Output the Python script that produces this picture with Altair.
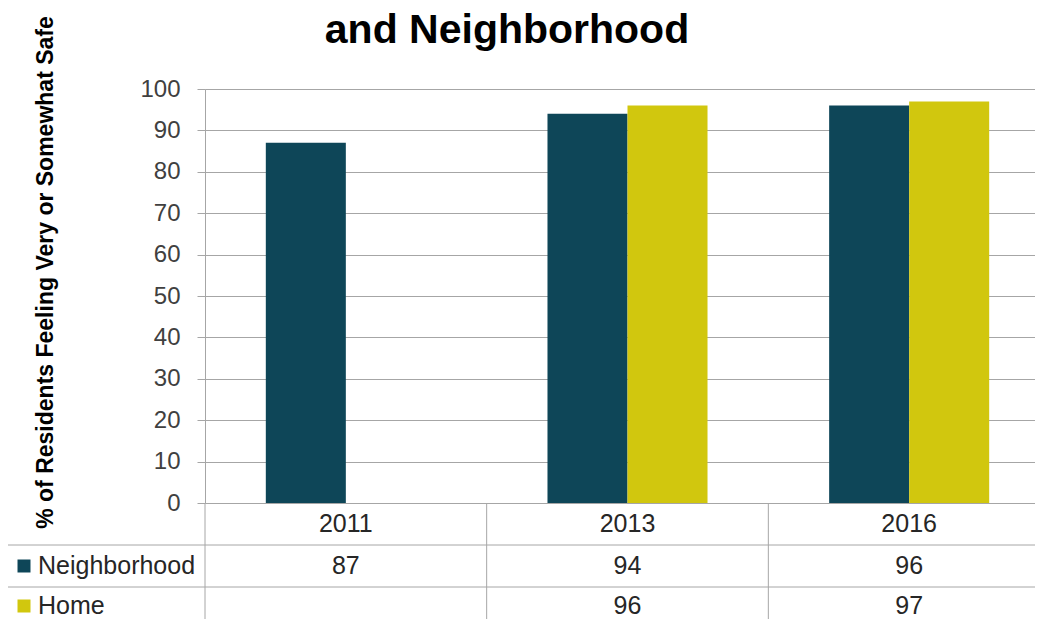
import altair as alt
import pandas as pd

years = ["2011", "2013", "2016"]
series = ["Neighborhood", "Home"]
neighborhood = [87, 94, 96]
home = [None, 96, 97]
y_ticks = list(range(0, 101, 10))
title_text = "and Neighborhood"
y_title = "% of Residents Feeling Very or Somewhat Safe"

TEAL = "#0E4658"
YELLOW = "#D1C70E"
GRID = "#A6A6A6"
FONT = "Liberation Sans"
TXT = "#262626"

rows = []
for i, yr in enumerate(years):
    rows.append({"year": yr, "series": "Neighborhood", "value": neighborhood[i]})
    if home[i] is not None:
        rows.append({"year": yr, "series": "Home", "value": home[i]})
df = pd.DataFrame(rows)
df_years = pd.DataFrame({"year": years})
df_series = pd.DataFrame({"series": series})
one = pd.DataFrame({"t": [title_text]})

W, H = 845, 414
ROW1, ROW2, ROW3 = 456, 498, 540
Y_HOME = (ROW2 + ROW3) / 2 - 2

x_scale = alt.Scale(domain=years, paddingInner=0, paddingOuter=0)
color_scale = alt.Scale(domain=series, range=[TEAL, YELLOW])

bars = alt.Chart(df).mark_bar().encode(
    x=alt.X("year:N", scale=x_scale, axis=None),
    xOffset=alt.XOffset("series:N", scale=alt.Scale(domain=series, paddingInner=0, paddingOuter=0.76)),
    y=alt.Y(
        "value:Q",
        scale=alt.Scale(domain=[0, 100]),
        axis=alt.Axis(
            values=y_ticks,
            grid=True,
            gridColor=GRID,
            domainColor=GRID,
            tickColor=GRID,
            tickSize=8,
            labelFont=FONT,
            labelFontSize=24,
            labelColor="#404040",
            labelPadding=17,
            title=y_title,
            titleFont=FONT,
            titleFontSize=23,
            titleFontWeight="bold",
            titleColor="#000000",
            titleAngle=270,
            titleX=-160,
            titleY=183,
            titleAlign="center",
            titleBaseline="middle",
        ),
    ),
    color=alt.Color("series:N", scale=color_scale, legend=None),
)

# table column separators
col_lines = alt.Chart(df_years).mark_rule(color=GRID, strokeWidth=1).encode(
    x=alt.X("year:N", scale=x_scale, bandPosition=0, axis=None),
    y=alt.value(H),
    y2=alt.value(ROW3),
)
left_border = alt.Chart(one).mark_rule(color=GRID).encode(
    x=alt.value(-198), y=alt.value(ROW1), y2=alt.value(ROW3)
)
row_line1 = alt.Chart(one).mark_rule(color=GRID).encode(
    x=alt.value(-198), x2=alt.value(W), y=alt.value(ROW1)
)
row_line2 = alt.Chart(one).mark_rule(color=GRID).encode(
    x=alt.value(-198), x2=alt.value(W), y=alt.value(ROW2)
)

txt = dict(font=FONT, fontSize=25, color=TXT, baseline="middle")
year_labels = alt.Chart(df_years).mark_text(align="center", **txt).encode(
    x=alt.X("year:N", scale=x_scale, axis=None),
    y=alt.value((H + ROW1) / 2),
    text="year:N",
)
neigh_vals = alt.Chart(df).transform_filter(alt.datum.series == "Neighborhood").mark_text(align="center", **txt).encode(
    x=alt.X("year:N", scale=x_scale, axis=None),
    y=alt.value((ROW1 + ROW2) / 2),
    text="value:Q",
)
home_vals = alt.Chart(df).transform_filter(alt.datum.series == "Home").mark_text(align="center", **txt).encode(
    x=alt.X("year:N", scale=x_scale, axis=None),
    y=alt.value(Y_HOME),
    text="value:Q",
)

neigh_lab = alt.Chart(df_series).transform_filter(alt.datum.series == "Neighborhood").mark_text(align="left", **txt).encode(
    x=alt.value(-167), y=alt.value((ROW1 + ROW2) / 2), text="series:N"
)
home_lab = alt.Chart(df_series).transform_filter(alt.datum.series == "Home").mark_text(align="left", **txt).encode(
    x=alt.value(-167), y=alt.value(Y_HOME), text="series:N"
)
neigh_sq = alt.Chart(df_series).transform_filter(alt.datum.series == "Neighborhood").mark_square(size=169, opacity=1).encode(
    x=alt.value(-181), y=alt.value((ROW1 + ROW2) / 2),
    color=alt.Color("series:N", scale=color_scale, legend=None),
)
home_sq = alt.Chart(df_series).transform_filter(alt.datum.series == "Home").mark_square(size=169, opacity=1).encode(
    x=alt.value(-181), y=alt.value(Y_HOME),
    color=alt.Color("series:N", scale=color_scale, legend=None),
)

title = alt.Chart(one).mark_text(
    font=FONT, fontSize=41, fontWeight="bold", color="#000000", align="center", baseline="alphabetic"
).encode(x=alt.value(302), y=alt.value(-46), text="t:N")

chart = alt.layer(
    bars, col_lines, left_border, row_line1, row_line2,
    year_labels, neigh_vals, home_vals, neigh_lab, home_lab, neigh_sq, home_sq, title,
).properties(
    width=W,
    height=H,
    autosize=alt.AutoSizeParams(type="none"),
    padding={"left": 197, "top": 81, "right": -15, "bottom": 116},
).configure_view(stroke=None).configure(background="white")

chart.save("out.html", embed_options={"renderer": "svg", "actions": False})
